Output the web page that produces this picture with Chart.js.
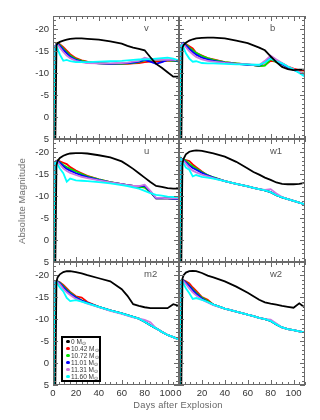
<!DOCTYPE html>
<html>
<head>
<meta charset="utf-8">
<script src="https://cdn.jsdelivr.net/npm/chart.js@4.4.0/dist/chart.umd.min.js"></script>
<style>
    body { margin: 0; background: #fff; width: 320px; height: 420px; position: relative; overflow: hidden; font-family: "Liberation Sans", Arial, sans-serif; }
    canvas { position: absolute; }
    #ytitle { position: absolute; left: 22px; top: 201px; transform: translate(-50%, -50%) rotate(-90deg); font-size: 9.3px; color: #666; white-space: nowrap; letter-spacing: 0.2px; }
    #xtitle { position: absolute; left: 178px; top: 405px; transform: translate(-50%, -50%); font-size: 9.3px; color: #666; white-space: nowrap; letter-spacing: 0.2px; }
    #legend { position: absolute; left: 61px; top: 336px; width: 40px; border: 2px solid #000; box-sizing: border-box; background: #fff; padding: 0; }
    #legend div { height: 7px; line-height: 7px; font-size: 6.5px; color: #333; white-space: nowrap; position: relative; padding-left: 8px; }
    #legend span.dot { position: absolute; left: 3px; top: 1.7px; width: 3.6px; height: 3.6px; border-radius: 50%; }
    #legend sub { font-size: 4.5px; vertical-align: -1px; line-height: 0; }
</style>
</head>
<body>
<canvas id="pv"></canvas>
<canvas id="pb"></canvas>
<canvas id="pu"></canvas>
<canvas id="pw1"></canvas>
<canvas id="pm2"></canvas>
<canvas id="pw2"></canvas>
<div id="ytitle">Absolute Magnitude</div>
<div id="xtitle">Days after Explosion</div>
<div id="legend"></div>
<script>
// days after explosion (shared by every curve)
const days = [1, 2, 3, 4, 6, 9, 12, 15, 20, 25, 30, 40, 50, 60, 65, 70, 75, 80, 85, 90, 95, 100, 105, 110];

const xTicks = [0, 20, 40, 60, 80, 100];
const yTicks = [-20, -15, -10, -5, 0, 5];

const massLabels = ['0', '10.42', '10.72', '11.01', '11.31', '11.60'];
const colors = ['#000000', '#ff0000', '#00e600', '#0000ff', '#cc77e0', '#00ffff'];

// v
const vBlack  = [null, 6, -16.3, -16.8, -17.1, -17.4, -17.6, -17.8, -17.9, -17.9, -17.8, -17.6, -17.2, -16.7, -16.2, -15.8, -15.5, -15.2, -13.6, -12.1, -11.2, -10.2, -9.2, -9.2];
const vRed    = [6, -16.0, -16.7, -16.9, -16.6, -15.9, -15.1, -14.3, -13.4, -12.9, -12.6, -12.3, -12.1, -12.1, -12.1, -12.2, -12.3, -12.5, -12.6, -12.6, -12.7, -12.8, -12.8, -12.7];
const vGreen  = [6, -16.1, -16.7, -16.8, -16.4, -15.6, -14.8, -14.0, -13.2, -12.8, -12.5, -12.2, -12.1, -12.1, -12.2, -12.3, -12.5, -12.9, -13.1, -13.0, -12.9, -12.9, -12.8, -12.7];
const vBlue   = [6, -16.1, -16.6, -16.7, -16.2, -15.3, -14.5, -13.7, -13.0, -12.6, -12.4, -12.2, -12.1, -12.2, -12.3, -12.4, -12.6, -13.0, -12.6, -12.1, -12.5, -13.0, -12.9, -12.8];
const vViolet = [6, -16.2, -16.5, -16.5, -15.8, -14.8, -14.0, -13.4, -12.8, -12.5, -12.3, -12.2, -12.2, -12.3, -12.4, -12.6, -12.8, -13.5, -13.2, -13.0, -13.0, -13.1, -13.0, -12.9];
const vCyan   = [6, -16.0, -16.3, -15.5, -14.2, -12.8, -13.0, -12.7, -12.5, -12.5, -12.5, -12.6, -12.7, -12.8, -12.9, -13.0, -13.1, -13.1, -13.2, -13.3, -13.4, -13.5, -13.3, -12.9];

// b
const bBlack  = [null, 6, -15.8, -16.4, -16.9, -17.4, -17.7, -17.9, -18.0, -18.1, -18.1, -17.9, -17.4, -16.8, -16.3, -15.8, -15.2, -13.8, -12.5, -11.4, -10.9, -10.7, -10.8, -10.8];
const bRed    = [6, -16.2, -16.8, -16.9, -16.6, -16.1, -15.6, -14.6, -14.0, -13.4, -13.1, -12.5, -12.2, -12.0, -11.8, -11.6, -11.8, -12.8, -12.6, -12.2, -11.5, -11.0, -10.7, -10.5];
const bGreen  = [6, -16.3, -16.8, -16.9, -16.5, -15.8, -15.2, -14.6, -13.9, -13.4, -13.0, -12.5, -12.2, -11.9, -11.8, -11.6, -11.7, -13.2, -12.5, -12.0, -11.3, -10.8, -10.3, -9.8];
const bBlue   = [6, -16.3, -16.8, -16.8, -16.3, -15.5, -14.8, -14.2, -13.5, -13.1, -12.8, -12.4, -12.1, -11.9, -11.8, -11.7, -12.5, -13.5, -12.7, -12.0, -11.3, -10.7, -10.2, -9.6];
const bViolet = [6, -16.3, -16.7, -16.6, -15.9, -15.0, -14.3, -13.7, -13.1, -12.8, -12.6, -12.3, -12.1, -12.0, -11.9, -11.8, -12.8, -14.0, -13.1, -12.3, -11.5, -10.9, -10.3, -9.7];
const bCyan   = [6, -16.2, -16.4, -15.8, -14.5, -13.3, -12.6, -12.7, -12.3, -12.2, -12.2, -12.1, -12.0, -12.0, -11.9, -11.9, -12.4, -13.3, -12.7, -12.2, -11.5, -10.8, -10.0, -9.2];

// u
const uBlack  = [null, 6, -17.0, -18.0, -18.7, -19.2, -19.5, -19.7, -19.8, -19.8, -19.7, -19.3, -18.8, -17.9, -17.1, -16.2, -15.2, -14.2, -13.2, -12.3, -12.1, -11.8, -11.7, -11.7];
const uRed    = [6, -17.5, -18.0, -18.1, -17.9, -17.6, -17.3, -16.6, -15.8, -15.2, -14.6, -13.8, -13.2, -12.7, -12.5, -12.3, -12.1, -12.0, -10.9, -9.5, -9.5, -9.5, -9.4, -9.4];
const uGreen  = [6, -17.6, -18.0, -18.1, -17.7, -17.1, -16.6, -16.2, -15.6, -15.0, -14.5, -13.8, -13.2, -12.7, -12.5, -12.3, -12.1, -12.0, -10.9, -9.5, -9.5, -9.5, -9.4, -9.4];
const uBlue   = [6, -17.6, -18.0, -18.0, -17.6, -16.8, -16.2, -15.8, -15.2, -14.7, -14.3, -13.7, -13.1, -12.7, -12.5, -12.3, -12.2, -12.4, -11.0, -9.5, -9.5, -9.5, -9.4, -9.4];
const uViolet = [6, -17.6, -17.9, -17.8, -17.2, -16.3, -15.7, -15.3, -14.8, -14.4, -14.1, -13.6, -13.1, -12.7, -12.5, -12.3, -12.3, -12.6, -11.2, -9.6, -9.6, -9.5, -9.5, -9.5];
const uCyan   = [6, -17.6, -17.7, -17.2, -16.3, -15.2, -13.3, -14.0, -13.6, -13.5, -13.4, -13.2, -12.9, -12.5, -12.3, -12.0, -11.7, -11.2, -10.7, -10.3, -10.1, -9.9, -9.8, -9.8];

// w1
const w1Black  = [null, 6, -17.4, -18.5, -19.5, -20.1, -20.3, -20.4, -20.3, -20.0, -19.7, -19.0, -17.8, -16.3, -15.5, -14.9, -14.2, -13.7, -13.1, -12.8, -12.7, -12.7, -12.8, -13.0];
const w1Red    = [6, -18.5, -18.4, -18.3, -18.2, -18.0, -17.2, -16.6, -15.6, -14.7, -14.2, -13.4, -12.8, -12.2, -11.9, -11.6, -11.3, -10.9, -10.2, -9.7, -9.3, -8.9, -8.5, -8.1];
const w1Green  = [6, -18.5, -18.4, -18.4, -18.0, -17.4, -16.8, -16.3, -15.5, -14.8, -14.3, -13.4, -12.8, -12.2, -11.9, -11.6, -11.3, -10.9, -10.2, -9.7, -9.3, -8.9, -8.5, -8.1];
const w1Blue   = [6, -18.5, -18.4, -18.2, -17.7, -17.0, -16.4, -16.0, -15.3, -14.7, -14.2, -13.4, -12.8, -12.2, -11.9, -11.6, -11.3, -10.9, -10.2, -9.7, -9.3, -8.9, -8.5, -8.1];
const w1Violet = [6, -18.5, -18.3, -18.0, -17.4, -16.5, -15.8, -15.4, -14.9, -14.5, -14.1, -13.4, -12.8, -12.2, -11.9, -11.6, -11.4, -11.6, -10.6, -9.8, -9.3, -8.9, -8.5, -8.1];
const w1Cyan   = [6, -18.4, -17.8, -17.4, -16.5, -16.0, -14.5, -14.8, -14.4, -14.2, -14.0, -13.4, -12.8, -12.2, -11.9, -11.6, -11.3, -10.9, -10.2, -9.7, -9.3, -8.9, -8.5, -8.1];

// m2
const m2Black  = [null, 6, -18.5, -19.5, -20.2, -20.7, -20.9, -20.9, -20.7, -20.4, -20.0, -19.3, -18.6, -16.8, -15.3, -13.4, -13.0, -12.7, -12.5, -12.5, -12.5, -12.5, -13.4, -13.0];
const m2Red    = [6, -18.3, -18.6, -18.6, -18.4, -17.8, -17.0, -16.2, -15.2, -14.9, -13.9, -12.8, -12.0, -11.3, -10.9, -10.5, -10.1, -9.4, -8.6, -7.9, -7.1, -6.4, -5.9, -5.4];
const m2Green  = [6, -18.4, -18.6, -18.6, -18.3, -17.5, -16.7, -16.0, -15.0, -14.3, -13.7, -12.8, -12.0, -11.3, -10.9, -10.5, -10.1, -9.4, -8.6, -7.9, -7.1, -6.4, -5.9, -5.4];
const m2Blue   = [6, -18.4, -18.6, -18.5, -18.2, -17.3, -16.5, -15.8, -14.9, -14.2, -13.7, -12.8, -12.0, -11.3, -10.9, -10.5, -10.1, -9.4, -8.6, -7.9, -7.1, -6.4, -5.9, -5.4];
const m2Violet = [6, -18.4, -18.5, -18.4, -17.9, -16.9, -16.1, -15.5, -14.6, -14.0, -13.5, -12.7, -11.9, -11.2, -10.8, -10.4, -10.1, -9.8, -9.3, -7.9, -7.1, -6.4, -5.9, -5.4];
const m2Cyan   = [6, -18.3, -18.5, -18.0, -17.2, -16.3, -14.8, -14.1, -14.3, -14.0, -13.6, -12.8, -12.0, -11.3, -10.9, -10.5, -10.1, -9.4, -8.6, -7.9, -7.1, -6.4, -5.9, -5.4];

// w2
const w2Black  = [null, 6, -19.2, -20.0, -20.6, -20.9, -21.0, -20.9, -20.5, -19.9, -19.5, -18.6, -17.4, -16.0, -15.2, -14.4, -13.8, -13.5, -13.3, -13.0, -12.8, -12.6, -13.6, -12.6];
const w2Red    = [6, -18.6, -18.9, -18.8, -18.6, -18.1, -17.2, -16.4, -15.0, -14.4, -13.3, -12.4, -11.7, -11.0, -10.7, -10.3, -10.0, -9.6, -8.8, -8.1, -7.7, -7.5, -7.2, -7.0];
const w2Green  = [6, -18.6, -18.9, -18.8, -18.4, -17.6, -16.8, -16.0, -14.9, -14.1, -13.3, -12.4, -11.7, -11.0, -10.7, -10.3, -10.0, -9.6, -8.8, -8.1, -7.7, -7.5, -7.2, -7.0];
const w2Blue   = [6, -18.6, -18.9, -18.8, -18.3, -17.5, -16.6, -15.8, -14.7, -13.9, -13.3, -12.4, -11.7, -11.0, -10.7, -10.3, -10.0, -9.6, -8.8, -8.1, -7.7, -7.5, -7.2, -7.0];
const w2Violet = [6, -18.6, -18.8, -18.6, -18.0, -17.0, -16.1, -15.4, -14.4, -13.8, -13.2, -12.4, -11.7, -11.0, -10.7, -10.3, -10.0, -9.9, -9.0, -8.1, -7.7, -7.5, -7.2, -7.0];
const w2Cyan   = [6, -18.7, -18.5, -18.0, -17.0, -15.9, -14.6, -14.8, -14.4, -13.9, -13.3, -12.4, -11.7, -11.0, -10.7, -10.3, -10.0, -9.6, -8.8, -8.1, -7.7, -7.5, -7.2, -7.0];

// panel geometry (px)
const PANEL_X = [53, 179];
const PANEL_Y = [16, 139, 262];
const PANEL_W = 126;
const PANEL_H = 123;
const FONT = '"Liberation Sans", Arial, sans-serif';

// box, inward ticks on all four sides, panel name
const framePlugin = {
    id: 'frame',
    afterDatasetsDraw(chart, args, opts) {
        const ctx = chart.ctx;
        const a = chart.chartArea;
        const x = chart.scales.x, y = chart.scales.y;
        ctx.save();
        ctx.strokeStyle = '#6a6a6a';
        ctx.lineWidth = 1;
        ctx.strokeRect(a.left + 0.5, a.top + 0.5, a.right - a.left - 1, a.bottom - a.top - 1);
        ctx.beginPath();
        for (let v = 0; v <= 110; v += 5) {
            const px = Math.round(x.getPixelForValue(v)) + 0.5;
            const len = v % 20 === 0 ? 5 : 3;
            ctx.moveTo(px, a.bottom); ctx.lineTo(px, a.bottom - len);
            ctx.moveTo(px, a.top); ctx.lineTo(px, a.top + len);
        }
        for (let v = -23; v <= 5; v += 1) {
            const py = Math.round(y.getPixelForValue(v)) + 0.5;
            const len = v % 5 === 0 ? 5 : 3;
            ctx.moveTo(a.left, py); ctx.lineTo(a.left + len, py);
            ctx.moveTo(a.right, py); ctx.lineTo(a.right - len, py);
        }
        ctx.stroke();
        ctx.fillStyle = '#555';
        ctx.font = '9.5px ' + FONT;
        ctx.textBaseline = 'middle';
        ctx.fillText(opts.text, a.left + 91, a.top + 12);
        ctx.restore();
    }
};

function drawPanel(canvasId, name, series, col, row) {
    const yw = col === 0 ? 53 : 4;
    const xh = row === 2 ? 16 : 4;
    const w = yw + PANEL_W + 3;
    const h = 6 + PANEL_H + xh;
    const canvas = document.getElementById(canvasId);
    canvas.width = w;
    canvas.height = h;
    canvas.style.width = w + 'px';
    canvas.style.height = h + 'px';
    canvas.style.left = (PANEL_X[col] - yw) + 'px';
    canvas.style.top = (PANEL_Y[row] - 6) + 'px';

    // black on top, then cyan, violet, blue, green, red
    const order = [0, 5, 4, 3, 2, 1];

    new Chart(canvas.getContext('2d'), {
        type: 'line',
        data: {
            datasets: series.map((vals, i) => ({
                label: massLabels[i],
                data: days.map((d, j) => ({ x: d, y: vals[j] })),
                borderColor: colors[i],
                backgroundColor: colors[i],
                borderWidth: 1.8,
                pointRadius: 0,
                tension: 0,
                fill: false,
                spanGaps: false,
                order: order[i]
            }))
        },
        options: {
            responsive: false,
            animation: false,
            events: [],
            layout: { autoPadding: false, padding: { top: 6, right: 3, left: 0, bottom: 0 } },
            plugins: {
                legend: { display: false },
                tooltip: { enabled: false },
                frame: { text: name }
            },
            scales: {
                x: {
                    type: 'linear',
                    min: 0,
                    max: 110,
                    grid: { display: false, drawTicks: false },
                    border: { display: false },
                    afterBuildTicks: (s) => { s.ticks = xTicks.map(v => ({ value: v })); },
                    afterFit: (s) => { s.height = xh; s.paddingLeft = 0; s.paddingRight = 0; },
                    ticks: {
                        display: row === 2,
                        padding: 3,
                        maxRotation: 0,
                        autoSkip: false,
                        color: '#333',
                        font: { family: FONT, size: 9.5 }
                    }
                },
                y: {
                    type: 'linear',
                    reverse: true,
                    min: -23,
                    max: 5,
                    grid: { display: false, drawTicks: false },
                    border: { display: false },
                    afterBuildTicks: (s) => { s.ticks = yTicks.map(v => ({ value: v })); },
                    afterFit: (s) => { s.width = yw; s.paddingTop = 0; s.paddingBottom = 0; },
                    ticks: {
                        display: col === 0,
                        padding: 4,
                        autoSkip: false,
                        color: '#333',
                        font: { family: FONT, size: 9.5 }
                    }
                }
            }
        },
        plugins: [framePlugin]
    });
}

drawPanel('pv', 'v', [vBlack, vRed, vGreen, vBlue, vViolet, vCyan], 0, 0);
drawPanel('pb', 'b', [bBlack, bRed, bGreen, bBlue, bViolet, bCyan], 1, 0);
drawPanel('pu', 'u', [uBlack, uRed, uGreen, uBlue, uViolet, uCyan], 0, 1);
drawPanel('pw1', 'w1', [w1Black, w1Red, w1Green, w1Blue, w1Violet, w1Cyan], 1, 1);
drawPanel('pm2', 'm2', [m2Black, m2Red, m2Green, m2Blue, m2Violet, m2Cyan], 0, 2);
drawPanel('pw2', 'w2', [w2Black, w2Red, w2Green, w2Blue, w2Violet, w2Cyan], 1, 2);

// legend inside the m2 panel
const legend = document.getElementById('legend');
massLabels.forEach((m, i) => {
    const row = document.createElement('div');
    row.innerHTML = '<span class="dot" style="background:' + colors[i] + '"></span>' + m + ' M<sub>\u2299</sub>';
    legend.appendChild(row);
});
</script>
</body>
</html>
